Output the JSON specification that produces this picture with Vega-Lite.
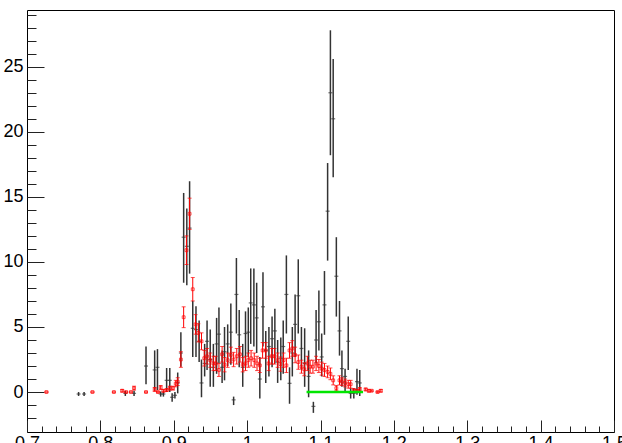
{
  "$schema": "https://vega.github.io/schema/vega-lite/v6.json",
  "autosize": "none",
  "width": 587,
  "height": 422,
  "padding": {"left": 27, "top": 10, "right": 8, "bottom": 11},
  "background": "white",
  "config": {"view": {"stroke": "#000", "strokeWidth": 1}},
  "datasets": {
    "black": [
      {"x": 0.7703, "y": -0.15, "lo": -0.3, "hi": 0.0},
      {"x": 0.7778, "y": -0.15, "lo": -0.3, "hi": 0.0},
      {"x": 0.834, "y": -0.1, "lo": -0.3, "hi": 0.1},
      {"x": 0.8459, "y": -0.1, "lo": -0.3, "hi": 0.1},
      {"x": 0.8622, "y": 2.0, "lo": 0.6, "hi": 3.5},
      {"x": 0.874, "y": 1.7, "lo": 0.1, "hi": 3.2},
      {"x": 0.8778, "y": 1.9, "lo": 0.15, "hi": 3.3},
      {"x": 0.8822, "y": -0.15, "lo": -0.35, "hi": 0.05},
      {"x": 0.8859, "y": -0.15, "lo": -0.35, "hi": 0.05},
      {"x": 0.8903, "y": 0.9, "lo": 0.0, "hi": 1.85},
      {"x": 0.8946, "y": 0.9, "lo": 0.0, "hi": 1.85},
      {"x": 0.8978, "y": -0.4, "lo": -0.75, "hi": -0.1},
      {"x": 0.9016, "y": -0.25, "lo": -0.5, "hi": 0.0},
      {"x": 0.9054, "y": 0.7, "lo": -0.1, "hi": 1.5},
      {"x": 0.9097, "y": 3.0, "lo": 1.95, "hi": 4.6},
      {"x": 0.9135, "y": 11.9, "lo": 8.4, "hi": 15.3},
      {"x": 0.9178, "y": 11.2, "lo": 8.2, "hi": 14.1},
      {"x": 0.9216, "y": 12.6, "lo": 9.1, "hi": 16.2},
      {"x": 0.9259, "y": 4.9, "lo": 2.7, "hi": 7.0},
      {"x": 0.9303, "y": 4.8, "lo": 2.7, "hi": 6.6},
      {"x": 0.9346, "y": 3.9, "lo": 2.3, "hi": 5.5},
      {"x": 0.9378, "y": 0.7, "lo": -0.4, "hi": 2.5},
      {"x": 0.9421, "y": 2.2, "lo": 1.2, "hi": 3.7},
      {"x": 0.9454, "y": 3.9, "lo": 1.7, "hi": 5.5},
      {"x": 0.9497, "y": 2.5, "lo": 0.4, "hi": 4.8},
      {"x": 0.954, "y": 1.9, "lo": 0.4, "hi": 3.7},
      {"x": 0.9584, "y": 3.7, "lo": 1.4, "hi": 5.7},
      {"x": 0.9616, "y": 4.45, "lo": 2.2, "hi": 6.5},
      {"x": 0.9659, "y": 1.9, "lo": 0.7, "hi": 3.2},
      {"x": 0.9692, "y": 3.1, "lo": 0.9, "hi": 5.0},
      {"x": 0.9735, "y": 3.7, "lo": 2.0, "hi": 5.2},
      {"x": 0.9778, "y": 4.6, "lo": 2.1, "hi": 6.8},
      {"x": 0.9816, "y": -0.6, "lo": -1.0, "hi": -0.35},
      {"x": 0.9854, "y": 7.5, "lo": 4.5, "hi": 10.3},
      {"x": 0.9892, "y": 4.4, "lo": 1.9, "hi": 6.3},
      {"x": 0.994, "y": 1.9, "lo": 0.4, "hi": 3.7},
      {"x": 0.9978, "y": 4.5, "lo": 1.9, "hi": 6.2},
      {"x": 1.0016, "y": 4.6, "lo": 2.7, "hi": 6.5},
      {"x": 1.0049, "y": 6.85, "lo": 3.7, "hi": 9.5},
      {"x": 1.0092, "y": 6.7, "lo": 3.5, "hi": 9.5},
      {"x": 1.013, "y": 5.7, "lo": 3.0, "hi": 8.4},
      {"x": 1.0173, "y": 1.0, "lo": -0.5, "hi": 2.7},
      {"x": 1.0216, "y": 6.55, "lo": 3.5, "hi": 9.2},
      {"x": 1.0254, "y": 3.2, "lo": 0.7, "hi": 4.7},
      {"x": 1.0297, "y": 3.5, "lo": 1.2, "hi": 5.0},
      {"x": 1.034, "y": 4.1, "lo": 1.9, "hi": 5.8},
      {"x": 1.0378, "y": 4.7, "lo": 2.2, "hi": 6.4},
      {"x": 1.0416, "y": 2.3, "lo": 0.7, "hi": 4.0},
      {"x": 1.0459, "y": 2.6, "lo": 0.9, "hi": 4.2},
      {"x": 1.0492, "y": 3.5, "lo": 1.4, "hi": 5.5},
      {"x": 1.0535, "y": 7.5, "lo": 4.5, "hi": 10.5},
      {"x": 1.0578, "y": 0.67, "lo": -0.9, "hi": 1.9},
      {"x": 1.0616, "y": 3.0, "lo": 1.2, "hi": 5.0},
      {"x": 1.0654, "y": 5.2, "lo": 2.7, "hi": 7.5},
      {"x": 1.0697, "y": 7.4, "lo": 4.5, "hi": 10.2},
      {"x": 1.074, "y": 3.35, "lo": 1.7, "hi": 5.0},
      {"x": 1.0784, "y": 2.2, "lo": 0.4, "hi": 4.9},
      {"x": 1.0838, "y": 1.2, "lo": -0.4, "hi": 3.2},
      {"x": 1.0903, "y": -1.1, "lo": -1.6, "hi": -0.75},
      {"x": 1.094, "y": 4.0, "lo": 2.2, "hi": 6.3},
      {"x": 1.0978, "y": 5.4, "lo": 3.2, "hi": 7.8},
      {"x": 1.1016, "y": 2.7, "lo": 1.2, "hi": 4.5},
      {"x": 1.1054, "y": 6.7, "lo": 4.4, "hi": 9.3},
      {"x": 1.1097, "y": 13.9, "lo": 10.1, "hi": 17.6},
      {"x": 1.1135, "y": 23.0, "lo": 18.2, "hi": 27.8},
      {"x": 1.1173, "y": 21.0, "lo": 16.5, "hi": 25.6},
      {"x": 1.1216, "y": 8.9, "lo": 5.8, "hi": 11.9},
      {"x": 1.1259, "y": 4.7, "lo": 2.8, "hi": 7.0},
      {"x": 1.1292, "y": 1.8, "lo": 0.4, "hi": 3.2},
      {"x": 1.1335, "y": 1.2, "lo": 0.0, "hi": 1.8},
      {"x": 1.1378, "y": 3.9, "lo": 1.7, "hi": 5.8},
      {"x": 1.1411, "y": -0.1, "lo": -0.5, "hi": 0.3},
      {"x": 1.1454, "y": -0.1, "lo": -0.5, "hi": 0.3},
      {"x": 1.1497, "y": 0.8, "lo": -0.2, "hi": 1.8},
      {"x": 1.1535, "y": 0.7, "lo": -0.3, "hi": 1.7}
    ],
    "red": [
      {"x": 0.7265, "y": 0, "lo": 0, "hi": 0},
      {"x": 0.7892, "y": 0, "lo": 0, "hi": 0},
      {"x": 0.8184, "y": 0, "lo": 0, "hi": 0},
      {"x": 0.8297, "y": 0.1, "lo": 0.0, "hi": 0.2},
      {"x": 0.8351, "y": 0, "lo": 0, "hi": 0},
      {"x": 0.8416, "y": 0, "lo": 0, "hi": 0},
      {"x": 0.8459, "y": 0.3, "lo": 0.15, "hi": 0.45},
      {"x": 0.8622, "y": 0, "lo": 0, "hi": 0},
      {"x": 0.874, "y": 0.2, "lo": 0.05, "hi": 0.35},
      {"x": 0.8784, "y": 0, "lo": -0.05, "hi": 0.05},
      {"x": 0.8822, "y": 0.35, "lo": 0.2, "hi": 0.5},
      {"x": 0.8859, "y": 0.1, "lo": 0.0, "hi": 0.2},
      {"x": 0.8903, "y": 0.15, "lo": 0.05, "hi": 0.25},
      {"x": 0.8946, "y": 0.3, "lo": 0.15, "hi": 0.45},
      {"x": 0.8989, "y": 0.3, "lo": 0.15, "hi": 0.45},
      {"x": 0.9027, "y": 0.65, "lo": 0.4, "hi": 0.9},
      {"x": 0.9054, "y": 0.8, "lo": 0.5, "hi": 1.1},
      {"x": 0.9097, "y": 2.5, "lo": 1.9, "hi": 3.1},
      {"x": 0.9135, "y": 5.75, "lo": 4.95, "hi": 6.55},
      {"x": 0.9173, "y": 10.9, "lo": 9.8, "hi": 12.0},
      {"x": 0.9216, "y": 13.7, "lo": 12.5, "hi": 14.9},
      {"x": 0.9259, "y": 7.9, "lo": 7.0, "hi": 8.8},
      {"x": 0.9297, "y": 5.2, "lo": 4.45, "hi": 5.95},
      {"x": 0.9335, "y": 4.55, "lo": 3.85, "hi": 5.25},
      {"x": 0.9378, "y": 3.9, "lo": 3.25, "hi": 4.55},
      {"x": 0.9416, "y": 2.6, "lo": 2.0, "hi": 3.2},
      {"x": 0.9454, "y": 2.75, "lo": 2.15, "hi": 3.35},
      {"x": 0.9497, "y": 2.45, "lo": 1.9, "hi": 3.0},
      {"x": 0.954, "y": 2.2, "lo": 1.65, "hi": 2.75},
      {"x": 0.9573, "y": 2.2, "lo": 1.65, "hi": 2.75},
      {"x": 0.9616, "y": 1.7, "lo": 1.2, "hi": 2.2},
      {"x": 0.9659, "y": 2.9, "lo": 2.3, "hi": 3.5},
      {"x": 0.9692, "y": 2.1, "lo": 1.55, "hi": 2.65},
      {"x": 0.9735, "y": 2.45, "lo": 1.9, "hi": 3.0},
      {"x": 0.9778, "y": 2.85, "lo": 2.25, "hi": 3.45},
      {"x": 0.9816, "y": 2.5, "lo": 1.95, "hi": 3.05},
      {"x": 0.9859, "y": 2.75, "lo": 2.15, "hi": 3.35},
      {"x": 0.9903, "y": 2.9, "lo": 2.3, "hi": 3.5},
      {"x": 0.994, "y": 2.1, "lo": 1.55, "hi": 2.65},
      {"x": 0.9978, "y": 2.2, "lo": 1.65, "hi": 2.75},
      {"x": 1.0016, "y": 2.45, "lo": 1.9, "hi": 3.0},
      {"x": 1.0054, "y": 2.6, "lo": 2.0, "hi": 3.2},
      {"x": 1.0097, "y": 2.45, "lo": 1.9, "hi": 3.0},
      {"x": 1.0135, "y": 2.2, "lo": 1.65, "hi": 2.75},
      {"x": 1.0173, "y": 2.05, "lo": 1.5, "hi": 2.6},
      {"x": 1.0211, "y": 3.2, "lo": 2.6, "hi": 3.8},
      {"x": 1.0254, "y": 3.2, "lo": 2.6, "hi": 3.8},
      {"x": 1.0292, "y": 2.2, "lo": 1.65, "hi": 2.75},
      {"x": 1.0335, "y": 2.75, "lo": 2.15, "hi": 3.35},
      {"x": 1.0373, "y": 2.75, "lo": 2.15, "hi": 3.35},
      {"x": 1.0416, "y": 2.45, "lo": 1.9, "hi": 3.0},
      {"x": 1.0454, "y": 2.15, "lo": 1.6, "hi": 2.7},
      {"x": 1.0497, "y": 2.45, "lo": 1.9, "hi": 3.0},
      {"x": 1.0535, "y": 2.05, "lo": 1.5, "hi": 2.6},
      {"x": 1.0578, "y": 3.2, "lo": 2.6, "hi": 3.8},
      {"x": 1.0616, "y": 3.35, "lo": 2.75, "hi": 3.95},
      {"x": 1.0654, "y": 2.85, "lo": 2.25, "hi": 3.45},
      {"x": 1.0697, "y": 2.3, "lo": 1.75, "hi": 2.85},
      {"x": 1.074, "y": 1.95, "lo": 1.45, "hi": 2.45},
      {"x": 1.0778, "y": 1.75, "lo": 1.25, "hi": 2.25},
      {"x": 1.0821, "y": 2.2, "lo": 1.65, "hi": 2.75},
      {"x": 1.0859, "y": 1.95, "lo": 1.45, "hi": 2.45},
      {"x": 1.0897, "y": 1.95, "lo": 1.45, "hi": 2.45},
      {"x": 1.094, "y": 2.2, "lo": 1.65, "hi": 2.75},
      {"x": 1.0978, "y": 2.0, "lo": 1.5, "hi": 2.5},
      {"x": 1.1016, "y": 1.8, "lo": 1.3, "hi": 2.3},
      {"x": 1.1054, "y": 1.7, "lo": 1.2, "hi": 2.2},
      {"x": 1.1097, "y": 1.55, "lo": 1.1, "hi": 2.0},
      {"x": 1.1135, "y": 1.4, "lo": 0.95, "hi": 1.85},
      {"x": 1.1173, "y": 0.9, "lo": 0.55, "hi": 1.25},
      {"x": 1.1216, "y": 0.3, "lo": 0.1, "hi": 0.5},
      {"x": 1.1259, "y": 0.9, "lo": 0.55, "hi": 1.25},
      {"x": 1.1292, "y": 0.8, "lo": 0.5, "hi": 1.1},
      {"x": 1.1335, "y": 0.7, "lo": 0.4, "hi": 1.0},
      {"x": 1.1378, "y": 0.6, "lo": 0.3, "hi": 0.9},
      {"x": 1.1411, "y": 0.6, "lo": 0.3, "hi": 0.9},
      {"x": 1.1454, "y": 0.15, "lo": 0.05, "hi": 0.25},
      {"x": 1.1497, "y": 0.1, "lo": 0.0, "hi": 0.2},
      {"x": 1.1535, "y": 0.2, "lo": 0.05, "hi": 0.35},
      {"x": 1.1616, "y": 0.2, "lo": 0.1, "hi": 0.3},
      {"x": 1.1659, "y": 0.1, "lo": 0.0, "hi": 0.2},
      {"x": 1.1697, "y": 0.1, "lo": 0.05, "hi": 0.15},
      {"x": 1.1778, "y": 0, "lo": -0.05, "hi": 0.05},
      {"x": 1.1822, "y": 0.1, "lo": 0.0, "hi": 0.2}
    ],
    "green": [
      {"x": 1.081, "y": 0},
      {"x": 1.158, "y": 0}
    ]
  },
  "encoding": {
    "x": {
      "field": "x", "type": "quantitative",
      "scale": {"domain": [0.7, 1.5], "nice": false, "zero": false},
      "axis": {
        "title": null, "domain": false, "grid": false,
        "values": [0.7,0.72,0.74,0.76,0.78,0.8,0.82,0.84,0.86,0.88,0.9,0.92,0.94,0.96,0.98,1.0,1.02,1.04,1.06,1.08,1.1,1.12,1.14,1.16,1.18,1.2,1.22,1.24,1.26,1.28,1.3,1.32,1.34,1.36,1.38,1.4,1.42,1.44,1.46,1.48,1.5],
        "tickSize": {"condition": {"test": "abs(datum.value*10 - round(datum.value*10)) < 0.001", "value": -12}, "value": -6},
        "tickColor": "#222", "tickWidth": 1,
        "labelExpr": "abs(datum.value*10 - round(datum.value*10)) < 0.001 ? format(datum.value, '.1~f') : ''",
        "labelFont": "Liberation Sans", "labelFontSize": 18, "labelColor": "#000",
        "labelPadding": 14, "labelOverlap": false, "labelFlush": false, "labelBound": false
      }
    },
    "y": {
      "field": "y", "type": "quantitative",
      "scale": {"domain": [-3.07, 29.36], "nice": false, "zero": false},
      "axis": {
        "title": null, "domain": false, "grid": false,
        "values": [-2,-1,0,1,2,3,4,5,6,7,8,9,10,11,12,13,14,15,16,17,18,19,20,21,22,23,24,25,26,27,28,29],
        "tickSize": {"condition": {"test": "datum.value % 5 === 0", "value": -17}, "value": -9},
        "tickColor": "#222", "tickWidth": 1,
        "labelExpr": "datum.value % 5 === 0 ? datum.label : ''",
        "labelFont": "Liberation Sans", "labelFontSize": 18, "labelColor": "#000",
        "labelPadding": 21, "labelOverlap": false, "labelBound": false
      }
    }
  },
  "layer": [
    {
      "data": {"name": "black"},
      "mark": {"type": "rule", "color": "#333", "strokeWidth": 1.5},
      "encoding": {
        "y": {
          "field": "lo", "type": "quantitative",
          "scale": {"domain": [-3.07, 29.36], "nice": false, "zero": false},
          "axis": {
            "title": null, "domain": false, "grid": false,
            "values": [-2,-1,0,1,2,3,4,5,6,7,8,9,10,11,12,13,14,15,16,17,18,19,20,21,22,23,24,25,26,27,28,29],
            "tickSize": {"condition": {"test": "datum.value % 5 === 0", "value": -17}, "value": -9},
            "tickColor": "#222", "tickWidth": 1,
            "labelExpr": "datum.value % 5 === 0 ? datum.label : ''",
            "labelFont": "Liberation Sans", "labelFontSize": 18, "labelColor": "#000",
            "labelPadding": 21, "labelOverlap": false, "labelBound": false
          }
        },
        "y2": {"field": "hi"}
      }
    },
    {
      "data": {"name": "black"},
      "mark": {"type": "tick", "orient": "horizontal", "color": "#333", "size": 4, "thickness": 1.2}
    },
    {
      "data": {"name": "red"},
      "mark": {"type": "rule", "color": "#f00", "strokeWidth": 1},
      "encoding": {
        "y": {
          "field": "lo", "type": "quantitative",
          "scale": {"domain": [-3.07, 29.36], "nice": false, "zero": false},
          "axis": {
            "title": null, "domain": false, "grid": false,
            "values": [-2,-1,0,1,2,3,4,5,6,7,8,9,10,11,12,13,14,15,16,17,18,19,20,21,22,23,24,25,26,27,28,29],
            "tickSize": {"condition": {"test": "datum.value % 5 === 0", "value": -17}, "value": -9},
            "tickColor": "#222", "tickWidth": 1,
            "labelExpr": "datum.value % 5 === 0 ? datum.label : ''",
            "labelFont": "Liberation Sans", "labelFontSize": 18, "labelColor": "#000",
            "labelPadding": 21, "labelOverlap": false, "labelBound": false
          }
        },
        "y2": {"field": "hi"}
      }
    },
    {
      "data": {"name": "red"},
      "mark": {"type": "tick", "orient": "horizontal", "color": "#f00", "size": 4, "thickness": 1},
      "encoding": {
        "y": {
          "field": "lo", "type": "quantitative",
          "scale": {"domain": [-3.07, 29.36], "nice": false, "zero": false},
          "axis": {
            "title": null, "domain": false, "grid": false,
            "values": [-2,-1,0,1,2,3,4,5,6,7,8,9,10,11,12,13,14,15,16,17,18,19,20,21,22,23,24,25,26,27,28,29],
            "tickSize": {"condition": {"test": "datum.value % 5 === 0", "value": -17}, "value": -9},
            "tickColor": "#222", "tickWidth": 1,
            "labelExpr": "datum.value % 5 === 0 ? datum.label : ''",
            "labelFont": "Liberation Sans", "labelFontSize": 18, "labelColor": "#000",
            "labelPadding": 21, "labelOverlap": false, "labelBound": false
          }
        }
      }
    },
    {
      "data": {"name": "red"},
      "mark": {"type": "tick", "orient": "horizontal", "color": "#f00", "size": 4, "thickness": 1},
      "encoding": {
        "y": {
          "field": "hi", "type": "quantitative",
          "scale": {"domain": [-3.07, 29.36], "nice": false, "zero": false},
          "axis": {
            "title": null, "domain": false, "grid": false,
            "values": [-2,-1,0,1,2,3,4,5,6,7,8,9,10,11,12,13,14,15,16,17,18,19,20,21,22,23,24,25,26,27,28,29],
            "tickSize": {"condition": {"test": "datum.value % 5 === 0", "value": -17}, "value": -9},
            "tickColor": "#222", "tickWidth": 1,
            "labelExpr": "datum.value % 5 === 0 ? datum.label : ''",
            "labelFont": "Liberation Sans", "labelFontSize": 18, "labelColor": "#000",
            "labelPadding": 21, "labelOverlap": false, "labelBound": false
          }
        }
      }
    },
    {
      "data": {"name": "red"},
      "mark": {"type": "square", "color": "#f00", "filled": false, "size": 8, "strokeWidth": 1}
    },
    {
      "data": {"name": "green"},
      "mark": {"type": "line", "color": "#00e600", "strokeWidth": 2.5}
    }
  ]
}
